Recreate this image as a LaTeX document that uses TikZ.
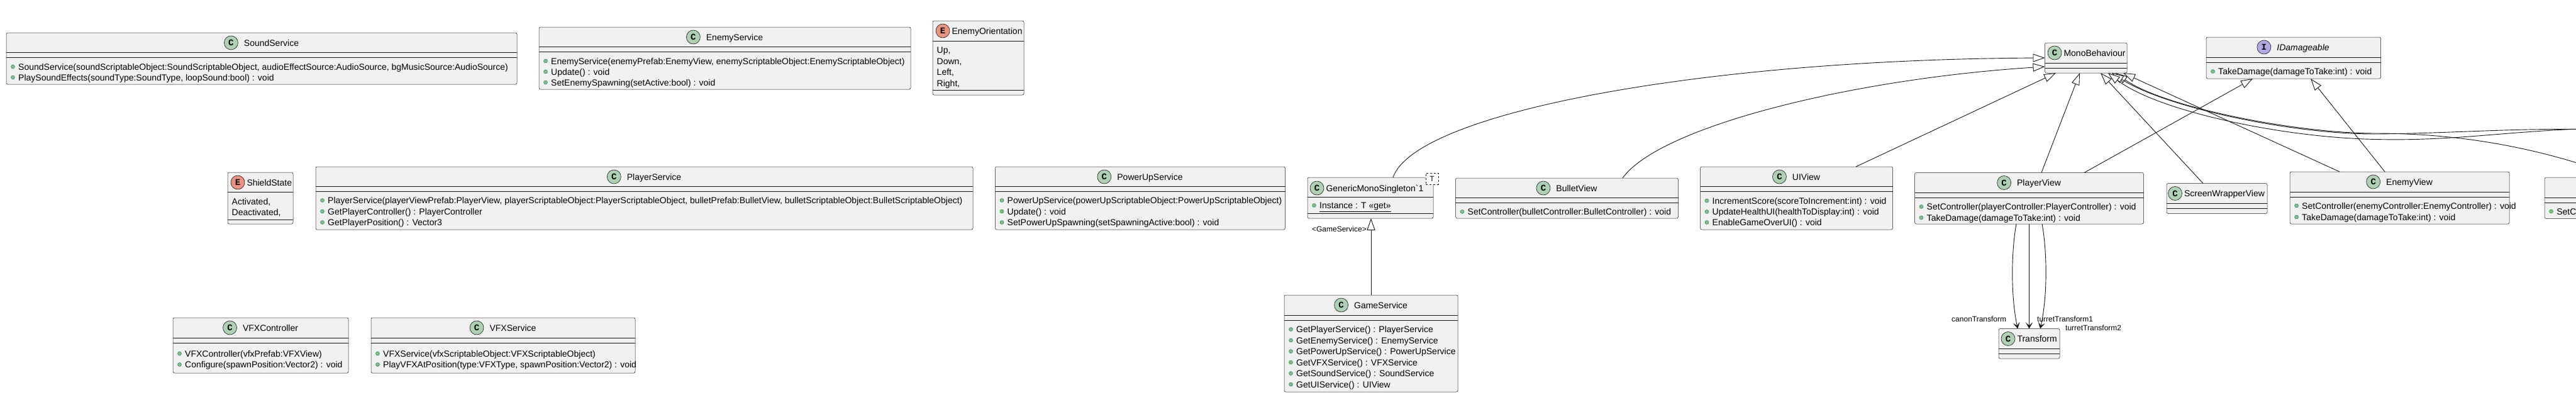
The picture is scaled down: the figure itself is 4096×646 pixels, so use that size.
\documentclass[tikz,border=0pt]{standalone}
\usepackage{fontspec}
\newfontfamily\umlfont{Liberation Sans}
\newfontfamily\umlicon{Liberation Mono}
\usetikzlibrary{positioning, arrows.meta, calc}
\definecolor{umlline}{HTML}{181818}
\definecolor{umlfill}{HTML}{F1F1F1}
\definecolor{classicon}{HTML}{ADD1B2}
\definecolor{enumicon}{HTML}{EB937F}
\definecolor{ifaceicon}{HTML}{B4A7E5}
\definecolor{pubfill}{HTML}{84BE84}
\definecolor{publine}{HTML}{038048}

\tikzset{
  classbox/.style={draw=umlline, fill=umlfill, line width=0.5pt, rounded corners=2.5pt, inner sep=0pt, outer sep=0pt, anchor=north west},
  sepline/.style={draw=umlline, line width=0.5pt},
  ctitle/.style={font=\umlfont\fontsize{14}{16}\selectfont, inner sep=0pt, text height=10pt, text depth=0pt},
  cicon/.style={circle, draw=umlline, line width=0.6pt, minimum size=22pt, inner sep=0pt, font=\umlicon\bfseries\fontsize{14}{14}\selectfont},
  member/.style={font=\umlfont\fontsize{14}{16}\selectfont, inner sep=0pt, anchor=west, text height=10pt, text depth=0pt},
  pubdot/.style={circle, fill=pubfill, draw=publine, line width=0.4pt, minimum size=6pt, inner sep=0pt},
  tparam/.style={draw=umlline, dashed, fill=white, line width=0.5pt, minimum width=20pt, minimum height=18pt, inner sep=0pt, font=\umlfont\fontsize{12}{12}\selectfont},
  extends/.style={draw=umlline, line width=0.9pt, -{Triangle[length=19pt, width=13pt, fill=white]}},
  assoc/.style={draw=umlline, line width=0.9pt, -{Stealth[length=10pt, width=11pt, inset=5pt]}},
  rolelabel/.style={font=\umlfont\fontsize{12}{14}\selectfont, inner sep=0pt, text height=9pt, text depth=0pt},
}

% box: name, x1, y1, x2, y2 (pixels, y down)
\newcommand{\umlbox}[5]{%
  \node[classbox, minimum width={(#4-#2)*1pt}, minimum height={(#5-#3)*1pt}] (#1) at (#2,#3) {};}
% compartment lines
\newcommand{\umlsep}[2]{%
  \foreach \yy in {#2} {\draw[sepline] (#1.west |- 0,\yy) -- (#1.east |- 0,\yy);}}
% centred title: name, text x, y, letter, colour, text
\newcommand{\umltitle}[6]{%
  \node[ctitle] (#1-t) at (#2,#3) {#6};
  \node[cicon, fill=#5, left=9pt of #1-t] (#1-i) {#4};}
% title filling a narrow box: name, icon x, y, letter, colour, text
\newcommand{\umltitleleft}[6]{%
  \node[cicon, fill=#5] (#1-i) at (#2,#3) {#4};
  \node[ctitle, right=3pt of #1-i] (#1-t) {#6};}
% public methods: name, box left x, list y/text
\newcommand{\umlmethods}[3]{%
  \foreach \yy/\txt [count=\i] in {#3} {
    \node[pubdot] (#1-d\i) at (#2+10.5,\yy) {};
    \node[member] (#1-m\i) at (#2+19,\yy) {\txt};}}
% enum values
\newcommand{\umlvalues}[3]{%
  \foreach \yy/\txt [count=\i] in {#3} {\node[member] (#1-v\i) at (#2,\yy) {\txt};}}

\begin{document}
\begin{tikzpicture}[x=1pt, y=-1pt]
  \useasboundingbox (0,0) rectangle (4096,646);
  \fill[white] (0,0) rectangle (4096,646);
  \clip (0,0) rectangle (4096,646);

  % Boxes
  \umlbox{soundsvc}{10}{52}{822}{134}
  \umlbox{enemysvc}{857}{43}{1448}{142}
  \umlbox{enemyori}{1483}{33}{1628}{151}
  \umlbox{shieldst}{362}{274}{466}{356}
  \umlbox{playersvc}{502}{265}{1547}{365}
  \umlbox{powerupsvc}{1582.5}{265}{2043.5}{365}
  \umlbox{singleton}{2079}{282}{2279}{347}
  \umlbox{gamesvc}{2042}{469}{2318}{623}
  \umlbox{bulletview}{2314.5}{283}{2668.5}{347}
  \umlbox{uiview}{2703.5}{265}{3009.5}{365}
  \umlbox{playerview}{3044.5}{274.5}{3408.5}{356}
  \umlbox{monobeh}{3251.5}{68}{3382}{116}
  \umlbox{idamage}{3508}{59}{3785.5}{125}
  \umlbox{screenwrap}{3445}{291.5}{3605}{339.5}
  \umlbox{enemyview}{3641}{273}{3990}{356}
  \umlbox{cutview}{4046}{282}{4300}{347.5}
  \umlbox{transform}{3178}{522.5}{3275}{570}
  \umlbox{vfxctrl}{275}{505}{554}{593}
  \umlbox{vfxsvc}{590}{505}{1010}{593}

  % Compartments
  \umlsep{soundsvc}{83.5,91.5}
  \umlsep{enemysvc}{74.5,82.5}
  \umlsep{enemyori}{65,143}
  \umlsep{shieldst}{305.5,349}
  \umlsep{playersvc}{296,304}
  \umlsep{powerupsvc}{296,304}
  \umlsep{singleton}{313.5,339.5}
  \umlsep{gamesvc}{501,509}
  \umlsep{bulletview}{314.5,322.5}
  \umlsep{uiview}{296.5,304.5}
  \umlsep{playerview}{306,314}
  \umlsep{monobeh}{100,108}
  \umlsep{idamage}{91,99.5}
  \umlsep{screenwrap}{323.5,331}
  \umlsep{enemyview}{305.5,313.5}
  \umlsep{cutview}{314,322.5}
  \umlsep{transform}{554,562}
  \umlsep{vfxctrl}{537,545}
  \umlsep{vfxsvc}{537,545}

  % Titles
  \umltitle{soundsvc}{431.5}{68}{C}{classicon}{SoundService}
  \umltitle{enemysvc}{1168}{59}{C}{classicon}{EnemyService}
  \umltitleleft{enemyori}{1499}{49}{E}{enumicon}{EnemyOrientation}
  \umltitleleft{shieldst}{378}{290}{E}{enumicon}{ShieldState}
  \umltitle{playersvc}{1040}{281}{C}{classicon}{PlayerService}
  \umltitle{powerupsvc}{1828.5}{281}{C}{classicon}{PowerUpService}
  \umltitleleft{singleton}{2094}{299}{C}{classicon}{GenericMonoSingleton`1}
  \node[tparam] (singleton-g) at (2277,284) {T};
  \umltitle{gamesvc}{2195.5}{485}{C}{classicon}{GameService}
  \umltitle{bulletview}{2507}{299}{C}{classicon}{BulletView}
  \umltitle{uiview}{2872}{281}{C}{classicon}{UIView}
  \umltitle{playerview}{3242}{290.5}{C}{classicon}{PlayerView}
  \umltitleleft{monobeh}{3267}{84}{C}{classicon}{MonoBehaviour}
  \umltitle{idamage}{3662}{75}{I}{ifaceicon}{\itshape IDamageable}
  \umltitleleft{screenwrap}{3458.5}{307.5}{C}{classicon}{ScreenWrapperView}
  \umltitle{enemyview}{3831}{289}{C}{classicon}{EnemyView}
  \umltitleleft{transform}{3193}{538.5}{C}{classicon}{Transform}
  \umltitle{vfxctrl}{430}{521}{C}{classicon}{VFXController}
  \umltitle{vfxsvc}{815.5}{521}{C}{classicon}{VFXService}

  % Members
  \umlmethods{soundsvc}{10}{106/{SoundService(soundScriptableObject:SoundScriptableObject, audioEffectSource:AudioSource, bgMusicSource:AudioSource)}, 123/{PlaySoundEffects(soundType:SoundType, loopSound:bool) : void}}
  \umlmethods{enemysvc}{857}{97/{EnemyService(enemyPrefab:EnemyView, enemyScriptableObject:EnemyScriptableObject)}, 114/{Update() : void}, 131/{SetEnemySpawning(setActive:bool) : void}}
  \umlvalues{enemyori}{1489.5}{79.5/{Up,}, 97/{Down,}, 114.5/{Left,}, 132/{Right,}}
  \umlvalues{shieldst}{368.5}{320/{Activated,}, 337.5/{Deactivated,}}
  \umlmethods{playersvc}{502}{318.5/{PlayerService(playerViewPrefab:PlayerView, playerScriptableObject:PlayerScriptableObject, bulletPrefab:BulletView, bulletScriptableObject:BulletScriptableObject)}, 336/{GetPlayerController() : PlayerController}, 353.5/{GetPlayerPosition() : Vector3}}
  \umlmethods{powerupsvc}{1582.5}{318.5/{PowerUpService(powerUpScriptableObject:PowerUpScriptableObject)}, 336/{Update() : void}, 353.5/{SetPowerUpSpawning(setSpawningActive:bool) : void}}
  \umlmethods{singleton}{2079}{326.5/{\underline{Instance : T «get»}}}
  \umlmethods{gamesvc}{2042}{523.5/{GetPlayerService() : PlayerService}, 541/{GetEnemyService() : EnemyService}, 558.5/{GetPowerUpService() : PowerUpService}, 576/{GetVFXService() : VFXService}, 593.5/{GetSoundService() : SoundService}, 611/{GetUIService() : UIView}}
  \umlmethods{bulletview}{2314.5}{336.5/{SetController(bulletController:BulletController) : void}}
  \umlmethods{uiview}{2703.5}{319/{IncrementScore(scoreToIncrement:int) : void}, 336.5/{UpdateHealthUI(healthToDisplay:int) : void}, 353.5/{EnableGameOverUI() : void}}
  \umlmethods{playerview}{3044.5}{328.5/{SetController(playerController:PlayerController) : void}, 346/{TakeDamage(damageToTake:int) : void}}
  \umlmethods{idamage}{3508}{113.5/{TakeDamage(damageToTake:int) : void}}
  \umlmethods{enemyview}{3641}{327/{SetController(enemyController:EnemyController) : void}, 345/{TakeDamage(damageToTake:int) : void}}
  \umlmethods{cutview}{4046}{336/{SetC}}
  \umlmethods{vfxctrl}{275}{562/{VFXController(vfxPrefab:VFXView)}, 579.5/{Configure(spawnPosition:Vector2) : void}}
  \umlmethods{vfxsvc}{590}{562/{VFXService(vfxScriptableObject:VFXScriptableObject)}, 579.5/{PlayVFXAtPosition(type:VFXType, spawnPosition:Vector2) : void}}

  % Generalisation
  \coordinate (offA) at (4130,206);
  \coordinate (offB) at (4130,204);
  \draw[extends] (gamesvc.north) -- (gamesvc.north |- singleton.south);
  \node[rolelabel, anchor=east] (gslabel) at (2173,364) {<GameService>};
  \draw[extends] ([xshift=36pt]singleton.north) .. controls (2250,180) and (2700,95) .. (monobeh.west);
  \draw[extends] ([xshift=88.5pt]bulletview.north) .. controls (2640,200) and (2950,125) .. ([yshift=-14pt]monobeh.west);
  \draw[extends] ([xshift=94.5pt]uiview.north) -- ([xshift=-47.75pt]monobeh.south);
  \draw[extends] ([xshift=19.5pt]playerview.north) -- ([xshift=-9.75pt]monobeh.south);
  \draw[extends] ([xshift=87.5pt]playerview.north) -- ([xshift=-64.75pt]idamage.south);
  \draw[extends] ([xshift=-22pt]screenwrap.north) -- ([xshift=23.25pt]monobeh.south);
  \draw[extends] ([xshift=-95.5pt]enemyview.north) -- ([xshift=59.25pt]monobeh.south);
  \draw[extends] ([xshift=-23.5pt]enemyview.north) -- ([xshift=27.25pt]idamage.south);
  \draw[extends] ([xshift=-8pt]cutview.north) .. controls (4080,250) and (3950,212) .. (3778,212) .. controls (3650,212) and (3440,170) .. ([xshift=47pt]monobeh.south);
  \draw[extends] (offA) .. controls (4000,203) and (3900,212) .. (3778,213) .. controls (3650,214) and (3445,172) .. ([xshift=41pt]monobeh.south);
  \draw[extends] (offB) .. controls (3980,208) and (3900,226) .. (3760,221) .. controls (3620,216) and (3430,176) .. ([xshift=35pt]monobeh.south);

  % Associations to Transform
  \draw[assoc] ([xshift=-20.5pt]playerview.south) .. controls (3198,400) and (3197,470) .. ([xshift=-18.2pt]transform.north);
  \draw[assoc] (playerview.south) -- (transform.north);
  \draw[assoc] ([xshift=20.5pt]playerview.south) .. controls (3255,400) and (3256,470) .. ([xshift=17.5pt]transform.north);
  \node[rolelabel, anchor=west] (canonlbl) at (3103,507) {canonTransform};
  \node[rolelabel, anchor=west] (turret1lbl) at (3239,507) {turretTransform1};
  \node[rolelabel, anchor=west] (turret2lbl) at (3284,521) {turretTransform2};
\end{tikzpicture}
\end{document}
